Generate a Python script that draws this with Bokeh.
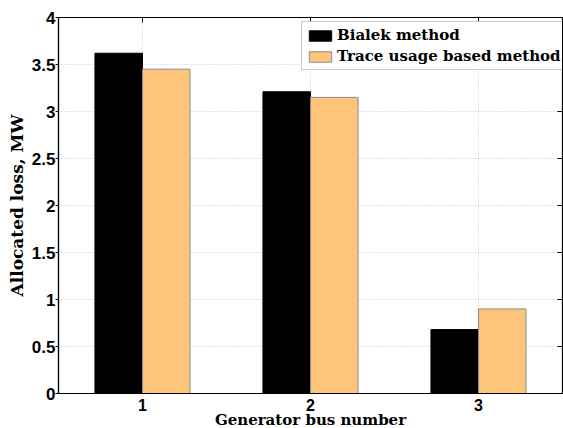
from bokeh.plotting import figure
from bokeh.models import (ColumnDataSource, Range1d, FixedTicker, NumeralTickFormatter,
                          Legend, LegendItem)
from bokeh.transform import dodge
from bokeh.embed import file_html
from bokeh.resources import INLINE
import math

categories = ["1", "2", "3"]
bialek = [3.62, 3.21, 0.68]
trace = [3.45, 3.15, 0.90]
series_names = ["Bialek method", "Trace usage based method"]
y_ticks = [0, 0.5, 1, 1.5, 2, 2.5, 3, 3.5, 4]

positions = list(range(1, len(categories) + 1))
x_lo, x_hi = 0.5, len(categories) + 0.5
y_lo, y_hi = y_ticks[0], y_ticks[-1]

src = ColumnDataSource(dict(x=positions, bialek=bialek, trace=trace))

p = figure(frame_width=504, frame_height=376, output_backend="svg", toolbar_location=None,
           x_range=Range1d(x_lo, x_hi), y_range=Range1d(y_lo, y_hi),
           min_border_left=58, min_border_right=1, min_border_top=17, min_border_bottom=35)

TICK_FONT = "Liberation Sans"
LABEL_FONT = "DejaVu Serif"

bw = 0.283
r1 = p.vbar(x=dodge("x", -bw / 2), top="bialek", width=bw, source=src,
            fill_color="black", line_color="black", line_width=1)
r2 = p.vbar(x=dodge("x", bw / 2), top="trace", width=bw, source=src,
            fill_color="#FEC57A", line_color="#8a8a8a", line_width=1)

# grids
for g in (p.xgrid, p.ygrid):
    g.grid_line_color = "#c8c8c8"
    g.grid_line_dash = "1 2"
    g.grid_line_width = 1
p.xgrid.ticker = FixedTicker(ticks=positions)
p.ygrid.ticker = FixedTicker(ticks=y_ticks)

# axes
p.xaxis.ticker = FixedTicker(ticks=positions)
p.xaxis.major_label_overrides = {pos: c for pos, c in zip(positions, categories)}
p.yaxis.ticker = FixedTicker(ticks=y_ticks)
p.yaxis.formatter = NumeralTickFormatter(format="0.[0]")
for ax in (p.xaxis[0], p.yaxis[0]):
    ax.minor_tick_in = 0
    ax.minor_tick_out = 0
    ax.axis_line_color = "black"
    ax.axis_line_width = 1.2
    ax.major_tick_line_color = "black"
    ax.major_label_text_font = TICK_FONT
    ax.major_label_text_font_style = "bold"
    ax.major_label_text_font_size = "16px"
    ax.major_label_text_color = "black"
    ax.axis_label_text_font = LABEL_FONT
    ax.axis_label_text_font_style = "bold"
    ax.axis_label_text_color = "black"
p.yaxis.major_label_text_font_size = "17px"
p.xaxis.axis_label_text_font_size = "15px"
p.yaxis.axis_label_text_font_size = "17px"
p.xaxis.major_tick_in = 0
p.xaxis.major_tick_out = 0
p.yaxis.major_tick_in = 0
p.yaxis.major_tick_out = 3
p.xaxis.axis_label = "Generator bus number"
p.yaxis.axis_label = "Allocated loss, MW"
p.xaxis.major_label_standoff = 5
p.xaxis.axis_label_standoff = -3
p.yaxis.major_label_standoff = 0
p.yaxis.axis_label_standoff = 2

# mirrored inward ticks on top and right edges (clipped to frame)
p.scatter(x=positions, y=[y_hi] * len(positions), marker="dash", size=10,
          angle=math.pi / 2, line_color="black", line_width=1)
p.scatter(x=[x_hi] * len(y_ticks), y=y_ticks, marker="dash", size=10,
          line_color="black", line_width=1)

p.outline_line_color = "black"
p.outline_line_width = 1.2

legend = Legend(items=[LegendItem(label=series_names[0], renderers=[r1]),
                       LegendItem(label=series_names[1], renderers=[r2])],
                location=(243, 323))
legend.label_text_font = LABEL_FONT
legend.label_text_font_style = "bold"
legend.label_text_font_size = "15px"
legend.label_text_color = "black"
legend.label_height = 13
legend.glyph_width = 28
legend.glyph_height = 13
legend.label_standoff = 3
legend.padding = 4
legend.spacing = 3
legend.margin = 0
legend.border_line_color = "#999999"
legend.border_line_width = 1
legend.background_fill_alpha = 1
p.add_layout(legend)

open("out.html", "w").write(file_html(p, INLINE))
